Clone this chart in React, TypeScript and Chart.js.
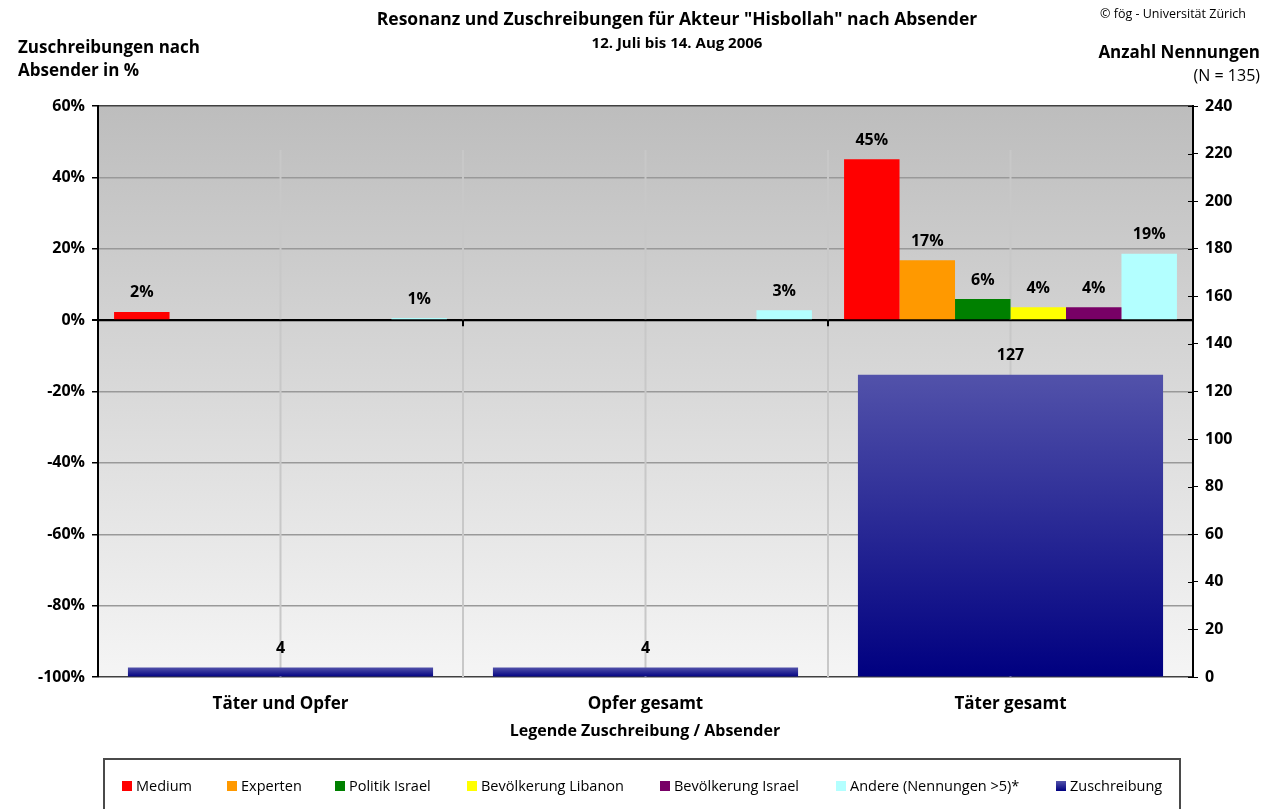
import React, { useEffect, useRef } from 'react';
import { Chart, registerables } from 'chart.js';

Chart.register(...registerables);

const FONT = "'Open Sans', sans-serif";

// ---- data ----
const categories = ['Täter und Opfer', 'Opfer gesamt', 'Täter gesamt'];
const medium = [2.3, null, 45.1];
const experten = [null, null, 16.8];
const politikIsrael = [null, null, 5.9];
const bevoelkerungLibanon = [null, null, 3.6];
const bevoelkerungIsrael = [null, null, 3.6];
const andere = [0.6, 2.8, 18.6];
const zuschreibung = [4, 4, 127];

const percentMin = -100;
const percentMax = 60;
const percentStep = 20;
const countMin = 0;
const countMax = 240;
const countStep = 20;

const seriesNames = [
  'Medium',
  'Experten',
  'Politik Israel',
  'Bevölkerung Libanon',
  'Bevölkerung Israel',
  'Andere (Nennungen >5)*',
  'Zuschreibung',
];
const seriesColors = ['#ff0000', '#ff9900', '#008000', '#ffff00', '#780066', '#b3ffff'];

const legendX = [122, 227, 335, 467, 660, 836, 1056];

const bgPlugin = {
  id: 'bgGradient',
  beforeDraw(chart: any) {
    const { ctx, chartArea } = chart;
    if (!chartArea) return;
    ctx.save();
    const g = ctx.createLinearGradient(0, chartArea.top, 0, chartArea.bottom);
    g.addColorStop(0, '#bdbdbd');
    g.addColorStop(1, '#f5f5f5');
    ctx.fillStyle = g;
    ctx.fillRect(chartArea.left, chartArea.top, chartArea.right - chartArea.left, chartArea.bottom - chartArea.top);
    ctx.restore();
  },
};

const linesPlugin = {
  id: 'vlines',
  beforeDatasetsDraw(chart: any) {
    const { ctx, chartArea, scales } = chart;
    const x = scales.x;
    const n = categories.length;
    const top = chartArea.top + 44;
    ctx.save();
    ctx.strokeStyle = '#c8c8c8';
    ctx.lineWidth = 2;
    const centers: number[] = [];
    for (let i = 0; i < n; i++) centers.push(x.getPixelForValue(i));
    const bounds: number[] = [];
    for (let i = 0; i < n - 1; i++) bounds.push((centers[i] + centers[i + 1]) / 2);
    [...centers, ...bounds].forEach((px) => {
      ctx.beginPath();
      ctx.moveTo(px, top);
      ctx.lineTo(px, chartArea.bottom);
      ctx.stroke();
    });
    const y0 = scales.y.getPixelForValue(0);
    ctx.strokeStyle = '#000';
    ctx.lineWidth = 2;
    ctx.beginPath();
    ctx.moveTo(chartArea.left, y0);
    ctx.lineTo(chartArea.right, y0);
    ctx.stroke();
    bounds.forEach((px) => {
      ctx.beginPath();
      ctx.moveTo(px, y0);
      ctx.lineTo(px, y0 + 6);
      ctx.stroke();
    });
    ctx.lineWidth = 1;
    scales.y2.ticks.forEach((t: any) => {
      const py = Math.round(scales.y2.getPixelForValue(t.value)) + 0.5;
      ctx.beginPath();
      ctx.moveTo(chartArea.right - 5, py);
      ctx.lineTo(chartArea.right, py);
      ctx.stroke();
    });
    ctx.restore();
  },
};

const labelPlugin = {
  id: 'valueLabels',
  afterDatasetsDraw(chart: any) {
    const ctx = chart.ctx;
    ctx.save();
    ctx.font = `bold 16px ${FONT}`;
    ctx.fillStyle = '#000';
    ctx.textAlign = 'center';
    ctx.textBaseline = 'middle';
    chart.data.datasets.forEach((ds: any, i: number) => {
      const meta = chart.getDatasetMeta(i);
      meta.data.forEach((el: any, j: number) => {
        const v = ds.data[j];
        if (v == null) return;
        const txt = ds.yAxisID === 'y2' ? String(v) : Math.round(v) + '%';
        ctx.fillText(txt, el.x, el.y - 19);
      });
    });
    ctx.restore();
  },
};

export default function App() {
  const ref = useRef<HTMLCanvasElement | null>(null);

  useEffect(() => {
    if (!ref.current) return;
    const pctData = [medium, experten, politikIsrael, bevoelkerungLibanon, bevoelkerungIsrael, andere];
    const datasets: any[] = pctData.map((d, i) => ({
      label: seriesNames[i],
      data: d,
      backgroundColor: seriesColors[i],
      xAxisID: 'x',
      yAxisID: 'y',
      grouped: true,
      categoryPercentage: 0.912,
      barPercentage: 1.0,
    }));
    datasets.push({
      label: seriesNames[6],
      data: zuschreibung,
      xAxisID: 'x',
      yAxisID: 'y2',
      grouped: false,
      categoryPercentage: 0.836,
      barPercentage: 1.0,
      backgroundColor: (c: any) => {
        const chart = c.chart;
        if (!chart.chartArea || c.type !== 'data' || c.raw == null) return '#2a2a99';
        const s = chart.scales.y2;
        const topPx = s.getPixelForValue(c.raw);
        const botPx = s.getPixelForValue(0);
        const g = chart.ctx.createLinearGradient(0, topPx, 0, botPx);
        g.addColorStop(0, '#5252aa');
        g.addColorStop(1, '#000080');
        return g;
      },
    });

    const chart = new Chart(ref.current, {
      type: 'bar',
      data: { labels: categories, datasets },
      plugins: [bgPlugin, linesPlugin, labelPlugin],
      options: {
        animation: false,
        responsive: false,
        devicePixelRatio: 1,
        layout: { padding: { top: 106, bottom: 92, left: 0, right: 0 } },
        plugins: {
          legend: { display: false },
          title: { display: false },
          tooltip: { enabled: false },
        },
        scales: {
          x: {
            type: 'category',
            position: 'bottom',
            offset: true,
            grid: { display: false, drawTicks: false },
            border: { display: false },
            ticks: {
              color: '#000',
              padding: 17,
              font: { family: FONT, size: 17, weight: 'bold' },
            },
            afterFit: (s: any) => {
              s.height = 40;
            },
          },
          y: {
            type: 'linear',
            position: 'left',
            min: percentMin,
            max: percentMax,
            ticks: {
              stepSize: percentStep,
              color: '#000',
              padding: 7,
              font: { family: FONT, size: 16, weight: 'bold' },
              callback: (v: any) => v + '%',
            },
            grid: {
              color: (c: any) =>
                c.tick && c.tick.value === 0
                  ? '#000'
                  : c.tick && (c.tick.value === percentMax || c.tick.value === percentMin)
                  ? '#404040'
                  : '#999999',
              lineWidth: (c: any) => (c.tick && c.tick.value === 0 ? 2 : 1.5),
              tickColor: '#000',
              tickLength: 6,
            },
            border: { display: true, color: '#000', width: 2 },
            afterFit: (s: any) => {
              s.width = 98;
            },
          },
          y2: {
            type: 'linear',
            position: 'right',
            min: countMin,
            max: countMax,
            ticks: {
              stepSize: countStep,
              color: '#000',
              padding: 7,
              font: { family: FONT, size: 16, weight: 'bold' },
            },
            grid: { drawOnChartArea: false, tickColor: '#000', tickLength: 5 },
            border: { display: true, color: '#000', width: 2 },
            afterFit: (s: any) => {
              s.width = 88;
            },
          },
        },
      } as any,
    });
    return () => chart.destroy();
  }, []);

  const abs = (extra: React.CSSProperties): React.CSSProperties => ({
    position: 'absolute',
    fontFamily: FONT,
    color: '#000',
    whiteSpace: 'nowrap',
    margin: 0,
    ...extra,
  });

  const legendColors = [...seriesColors, 'linear-gradient(#5252aa, #000080)'];

  return (
    <div style={{ position: 'absolute', left: 0, top: 0, width: 1281, height: 809, overflow: 'hidden', background: '#fff' }}>
      <canvas ref={ref} width={1281} height={809} style={{ position: 'absolute', left: 0, top: 0 }} />
      <div style={abs({ left: 0, width: 1354, top: 7, lineHeight: '22px', fontSize: 17.5, fontWeight: 'bold', textAlign: 'center' })}>
        Resonanz und Zuschreibungen für Akteur "Hisbollah" nach Absender
      </div>
      <div style={abs({ left: 0, width: 1354, top: 32, lineHeight: '20px', fontSize: 15, fontWeight: 'bold', textAlign: 'center' })}>
        12. Juli bis 14. Aug 2006
      </div>
      <div style={abs({ right: 35, top: 5, lineHeight: '18px', fontSize: 12.5, textAlign: 'right' })}>
        © fög - Universität Zürich
      </div>
      <div style={abs({ left: 18, top: 35, lineHeight: '23px', fontSize: 17, fontWeight: 'bold' })}>
        Zuschreibungen nach
        <br />
        Absender in %
      </div>
      <div style={abs({ right: 21, top: 40, lineHeight: '24px', fontSize: 17, fontWeight: 'bold', textAlign: 'right' })}>
        Anzahl Nennungen
      </div>
      <div style={abs({ right: 21, top: 64, lineHeight: '22px', fontSize: 16, textAlign: 'right' })}>(N = 135)</div>
      <div style={abs({ left: 0, width: 1290, top: 719, lineHeight: '22px', fontSize: 16, fontWeight: 'bold', textAlign: 'center' })}>
        Legende Zuschreibung / Absender
      </div>
      <div
        style={{
          position: 'absolute',
          left: 103,
          top: 758,
          width: 1078,
          height: 80,
          border: '2px solid #4a4a4a',
          boxSizing: 'border-box',
        }}
      />
      {seriesNames.map((name, i) => (
        <React.Fragment key={name}>
          <div
            style={{
              position: 'absolute',
              left: legendX[i],
              top: 781,
              width: 10,
              height: 10,
              background: legendColors[i],
            }}
          />
          <div style={abs({ left: legendX[i] + 14, top: 776, lineHeight: '20px', fontSize: 14.5 })}>{name}</div>
        </React.Fragment>
      ))}
    </div>
  );
}
